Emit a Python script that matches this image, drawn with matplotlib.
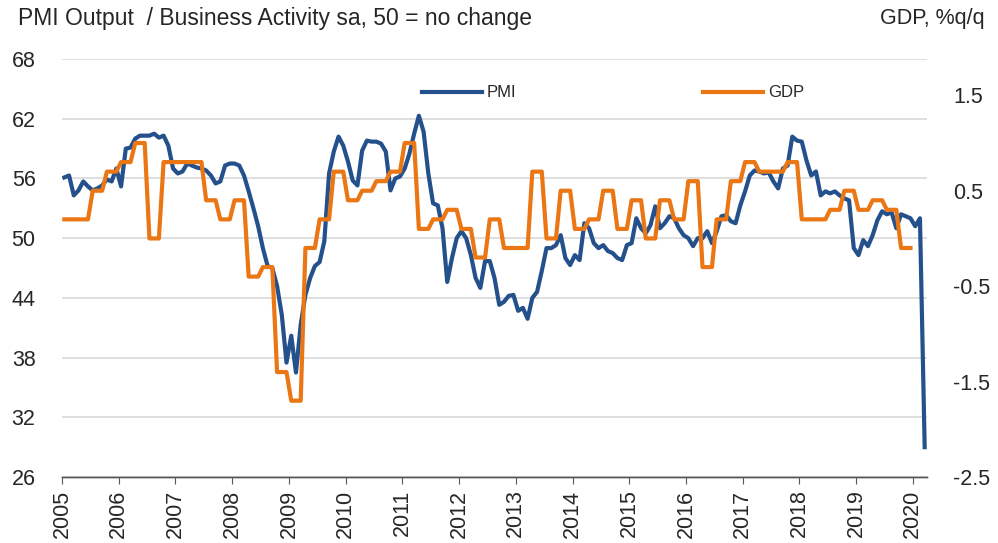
import numpy as np
import matplotlib
matplotlib.use('Agg')
import matplotlib.pyplot as plt

plt.rcParams['font.family'] = ['Liberation Sans', 'DejaVu Sans']

# Monthly PMI, Jan 2005 - Mar 2020
pmi = [
    56.1, 56.3, 54.3, 54.8, 55.7, 55.2, 54.8, 55.0, 55.3, 55.9, 55.7, 57.0,  # 2005
    55.2, 59.0, 59.1, 60.0, 60.3, 60.3, 60.3, 60.5, 60.1, 60.3, 59.3, 57.0,  # 2006
    56.5, 56.7, 57.5, 57.3, 57.1, 57.0, 56.8, 56.3, 55.5, 55.7, 57.3, 57.5,  # 2007
    57.5, 57.3, 56.3, 54.7, 53.0, 51.2, 49.0, 47.2, 47.0, 45.2, 42.3, 37.5,  # 2008
    40.2, 36.5, 41.3, 44.3, 46.0, 47.2, 47.6, 49.7, 56.5, 58.7, 60.2, 59.3,  # 2009
    57.7, 55.8, 55.3, 58.8, 59.8, 59.7, 59.7, 59.5, 58.7, 54.8, 56.0, 56.2,  # 2010
    57.0, 58.5, 60.5, 62.3, 60.7, 56.5, 53.5, 53.3, 51.0, 45.6, 48.0, 50.0,  # 2011
    50.7, 50.0, 48.3, 46.0, 45.0, 47.7, 47.7, 46.0, 43.3, 43.6, 44.2, 44.3,  # 2012
    42.7, 43.0, 41.9, 44.0, 44.6, 46.7, 49.0, 49.0, 49.3, 50.3, 48.0, 47.3,  # 2013
    48.3, 47.8, 51.5, 51.0, 49.5, 49.0, 49.3, 48.7, 48.5, 48.0, 47.8, 49.3,  # 2014
    49.5, 52.0, 51.0, 50.5, 51.3, 53.2, 51.0, 51.5, 52.2, 52.0, 51.0, 50.3,  # 2015
    50.0, 49.2, 50.0, 50.0, 50.7, 49.5, 50.7, 52.2, 52.3, 51.7, 51.5, 53.3,  # 2016
    54.7, 56.3, 56.8, 56.7, 56.5, 56.6, 55.7, 55.0, 57.0, 57.3, 60.2, 59.8,  # 2017
    59.7, 57.8, 56.3, 56.7, 54.3, 54.7, 54.5, 54.7, 54.3, 54.0, 53.8, 49.0,  # 2018
    48.3, 49.8, 49.2, 50.3, 51.8, 52.7, 52.4, 52.6, 51.0, 52.4, 52.2, 52.0,  # 2019
    51.2, 52.0, 29.0,                                                        # 2020
]

# Quarterly GDP %q/q, 2005 Q1 - 2019 Q4
gdp_q = [
    0.2, 0.2, 0.5, 0.7,
    0.8, 1.0, 0.0, 0.8,
    0.8, 0.8, 0.4, 0.2,
    0.4, -0.4, -0.3, -1.4,
    -1.7, -0.1, 0.2, 0.7,
    0.4, 0.5, 0.6, 0.7,
    1.0, 0.1, 0.2, 0.3,
    0.1, -0.2, 0.2, -0.1,
    -0.1, 0.7, 0.0, 0.5,
    0.1, 0.2, 0.5, 0.1,
    0.4, 0.0, 0.4, 0.2,
    0.6, -0.3, 0.2, 0.6,
    0.8, 0.7, 0.7, 0.8,
    0.2, 0.2, 0.3, 0.5,
    0.3, 0.4, 0.3, -0.1,
]

years = list(range(2005, 2021))

# monthly positions (mid-month), quarterly GDP shown for each month of its quarter
t_pmi = 2005 + (np.arange(len(pmi)) + 0.5) / 12
gdp_m = np.repeat(gdp_q, 3)
t_gdp = 2005 + (np.arange(len(gdp_m)) + 0.5) / 12

blue = '#24508c'
orange = '#eb7614'
txt = '#262626'

fig = plt.figure(figsize=(9.98, 5.43), dpi=100)
ax = fig.add_axes([0.0621, 0.1215, 0.8668, 0.7698])
ax2 = ax.twinx()

l1, = ax.plot(t_pmi, pmi, color=blue, lw=3.0, label='PMI')
l2, = ax2.plot(t_gdp, gdp_m, color=orange, lw=3.0, label='GDP')

ax.set_xlim(2005, 2020.25)
ax.set_ylim(26, 68)
ax.set_yticks(range(26, 69, 6))
ax2.set_ylim(-2.5, 1.88)
ax2.set_yticks([-2.5, -1.5, -0.5, 0.5, 1.5])
ax2.set_yticklabels(['-2.5', '-1.5', '-0.5', '0.5', '1.5'])

ax.grid(axis='y', color='#d9d9d9', lw=1.2)
ax.set_axisbelow(True)
for a in (ax, ax2):
    for s in ('left', 'right', 'top'):
        a.spines[s].set_visible(False)
    a.spines['bottom'].set_color('#595959')
    a.spines['bottom'].set_linewidth(1.0)

ax.set_xticks(years)
ax.set_xticklabels([str(y) for y in years], rotation=90)
ax.tick_params(axis='x', length=5, color='#595959', labelsize=15.5, pad=4, labelcolor=txt)
ax.tick_params(axis='y', length=0, labelsize=15.5, pad=19, labelcolor=txt)
ax2.tick_params(axis='y', length=0, labelsize=15.5, pad=19, labelcolor=txt)

fig.text(0.018, 0.966, 'PMI Output  / Business Activity sa, 50 = no change',
         fontsize=16.5, color=txt, va='center', ha='left')
fig.text(0.987, 0.966, 'GDP, %q/q', fontsize=15.5, color=txt,
         va='center', ha='right')

ax.legend([l1, l2], ['PMI', 'GDP'], ncol=2, loc='center left',
          bbox_to_anchor=(0.416, 0.919), frameon=False, fontsize=12,
          handlelength=3.6, handletextpad=0.3, columnspacing=11.2,
          borderpad=0, borderaxespad=0, labelcolor=txt)

fig.savefig('out.png', dpi=100)
